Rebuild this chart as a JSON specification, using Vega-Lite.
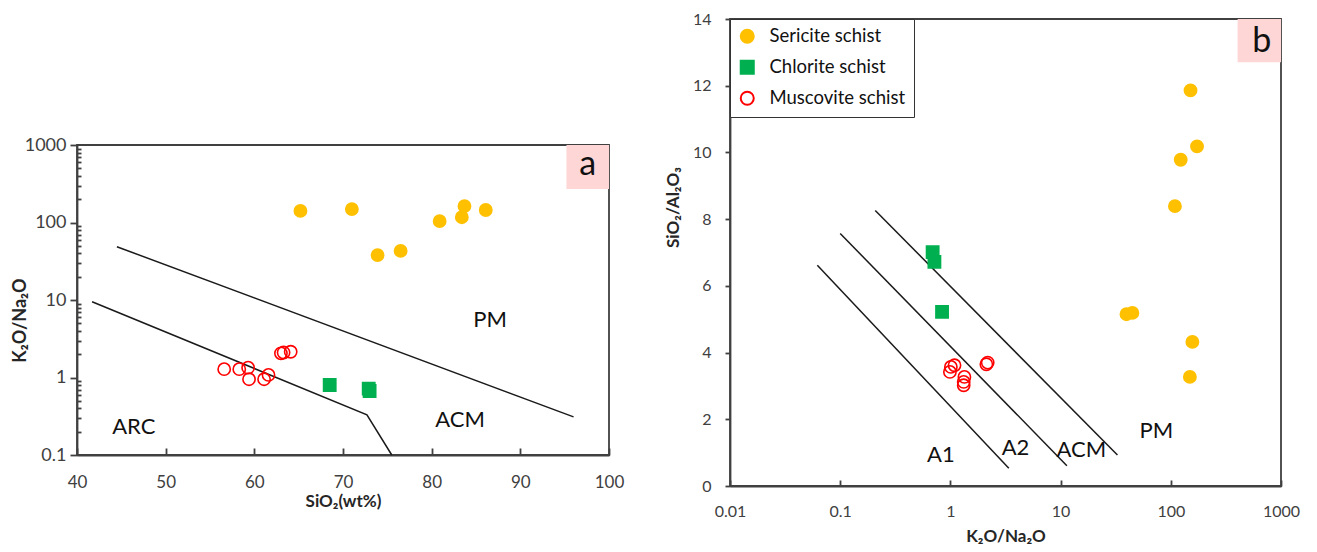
{
  "$schema": "https://vega.github.io/schema/vega-lite/v6.json",
  "padding": {"left": 10, "top": 10, "right": 5, "bottom": 5},
  "background": "white",
  "config": {
    "font": "Lato",
    "axis": {"grid": false, "ticks": true, "labelFlush": false, "domainColor": "#404040", "domainWidth": 1.8, "tickColor": "#404040", "tickWidth": 1.8, "labelColor": "#404040", "titleColor": "#262626", "labelFont": "Lato", "titleFont": "Lato"},
    "view": {"stroke": "#404040", "strokeWidth": 1.8}
  },
  "datasets": {
    "pointsA": [
      {"x": 65.2, "y": 141, "type": "Sericite schist"},
      {"x": 71.0, "y": 149, "type": "Sericite schist"},
      {"x": 73.9, "y": 38, "type": "Sericite schist"},
      {"x": 76.5, "y": 43, "type": "Sericite schist"},
      {"x": 80.9, "y": 104, "type": "Sericite schist"},
      {"x": 83.4, "y": 117, "type": "Sericite schist"},
      {"x": 83.7, "y": 163, "type": "Sericite schist"},
      {"x": 86.1, "y": 145, "type": "Sericite schist"},
      {"x": 68.5, "y": 0.8, "type": "Chlorite schist"},
      {"x": 72.9, "y": 0.72, "type": "Chlorite schist"},
      {"x": 73.0, "y": 0.67, "type": "Chlorite schist"},
      {"x": 56.6, "y": 1.28, "type": "Muscovite schist"},
      {"x": 58.3, "y": 1.28, "type": "Muscovite schist"},
      {"x": 59.3, "y": 1.34, "type": "Muscovite schist"},
      {"x": 59.4, "y": 0.95, "type": "Muscovite schist"},
      {"x": 61.1, "y": 0.95, "type": "Muscovite schist"},
      {"x": 61.6, "y": 1.08, "type": "Muscovite schist"},
      {"x": 63.0, "y": 2.05, "type": "Muscovite schist"},
      {"x": 63.3, "y": 2.1, "type": "Muscovite schist"},
      {"x": 64.1, "y": 2.15, "type": "Muscovite schist"}
    ],
    "linesA": [
      {"id": "u", "x": 44.5, "y": 48.7, "o": 1},
      {"id": "u", "x": 96.0, "y": 0.31, "o": 2},
      {"id": "l", "x": 41.7, "y": 9.5, "o": 1},
      {"id": "l", "x": 72.7, "y": 0.33, "o": 2},
      {"id": "l", "x": 75.5, "y": 0.1, "o": 3}
    ],
    "labelsA": [
      {"x": 86.6, "y": 5.5, "t": "PM"},
      {"x": 46.4, "y": 0.23, "t": "ARC"},
      {"x": 83.2, "y": 0.28, "t": "ACM"}
    ],
    "boxA": [{"x": 95.2, "x2": 100, "y": 270, "y2": 1000, "t": "a", "xt": 97.6, "yt": 560}],
    "pointsB": [
      {"x": 151, "y": 11.86, "type": "Sericite schist"},
      {"x": 173, "y": 10.18, "type": "Sericite schist"},
      {"x": 123, "y": 9.78, "type": "Sericite schist"},
      {"x": 109, "y": 8.39, "type": "Sericite schist"},
      {"x": 39.6, "y": 5.15, "type": "Sericite schist"},
      {"x": 44.8, "y": 5.19, "type": "Sericite schist"},
      {"x": 157, "y": 4.32, "type": "Sericite schist"},
      {"x": 149, "y": 3.27, "type": "Sericite schist"},
      {"x": 0.69, "y": 7.01, "type": "Chlorite schist"},
      {"x": 0.716, "y": 6.72, "type": "Chlorite schist"},
      {"x": 0.84, "y": 5.22, "type": "Chlorite schist"},
      {"x": 1.01, "y": 3.57, "type": "Muscovite schist"},
      {"x": 1.09, "y": 3.62, "type": "Muscovite schist"},
      {"x": 0.99, "y": 3.42, "type": "Muscovite schist"},
      {"x": 1.34, "y": 3.27, "type": "Muscovite schist"},
      {"x": 1.32, "y": 3.12, "type": "Muscovite schist"},
      {"x": 1.32, "y": 3.02, "type": "Muscovite schist"},
      {"x": 2.12, "y": 3.65, "type": "Muscovite schist"},
      {"x": 2.18, "y": 3.7, "type": "Muscovite schist"}
    ],
    "linesB": [
      {"id": "a1", "x": 0.062, "y": 6.62, "o": 1},
      {"id": "a1", "x": 3.39, "y": 0.53, "o": 2},
      {"id": "a2", "x": 0.1, "y": 7.57, "o": 1},
      {"id": "a2", "x": 11.4, "y": 0.61, "o": 2},
      {"id": "acm", "x": 0.208, "y": 8.26, "o": 1},
      {"id": "acm", "x": 32.8, "y": 0.93, "o": 2}
    ],
    "labelsB": [
      {"x": 0.82, "y": 0.93, "t": "A1"},
      {"x": 3.9, "y": 1.13, "t": "A2"},
      {"x": 15.4, "y": 1.08, "t": "ACM"},
      {"x": 74, "y": 1.66, "t": "PM"}
    ],
    "boxB": [{"x": 404, "x2": 1000, "y": 12.7, "y2": 14, "t": "b", "xt": 668, "yt": 13.3}]
  },
  "hconcat": [
    {
      "vconcat": [
        {"width": 10, "height": 116, "view": {"stroke": null, "fill": "white"}, "data": {"values": [{"a": 1}]}, "mark": {"type": "point", "opacity": 0}, "encoding": {}},
        {
          "width": 532,
          "height": 310,
          "encoding": {
            "x": {"field": "x", "type": "quantitative", "scale": {"domain": [40, 100], "nice": false, "zero": false},
              "axis": {"title": "SiO₂(wt%)", "values": [40, 50, 60, 70, 80, 90, 100], "tickSize": -7, "labelPadding": 26, "labelFontSize": 17, "titleFontSize": 17, "titleFontWeight": "bold", "titlePadding": 3}},
            "y": {"field": "y", "type": "quantitative", "scale": {"type": "log", "domain": [0.1, 1000], "nice": false},
              "axis": {"title": "K₂O/Na₂O", "values": [0.1, 0.2, 0.3, 0.4, 0.5, 0.6, 0.7, 0.8, 0.9, 1, 2, 3, 4, 5, 6, 7, 8, 9, 10, 20, 30, 40, 50, 60, 70, 80, 90, 100, 200, 300, 400, 500, 600, 700, 800, 900, 1000],
                "format": "~g",
                "labelExpr": "indexof([0.1,1,10,100,1000], datum.value) >= 0 ? datum.label : ''",
                "tickSize": {"condition": {"test": "indexof([0.1,1,10,100,1000], datum.value) >= 0", "value": 7}, "value": -4},
                "labelFontSize": 18, "labelPadding": 4, "titleFontSize": 18, "titleFontWeight": "bold", "titlePadding": -5, "titleY": 175}}
          },
          "layer": [
            {"data": {"name": "boxA"}, "mark": {"type": "rect", "color": "#FFD6D6"}, "encoding": {"x2": {"field": "x2"}, "y2": {"field": "y2"}}},
            {"data": {"name": "boxA"}, "mark": {"type": "text", "fontSize": 34, "color": "#111"}, "encoding": {"x": {"field": "xt", "type": "quantitative"}, "y": {"field": "yt", "type": "quantitative"}, "text": {"field": "t"}}},
            {"data": {"name": "linesA"}, "mark": {"type": "line", "color": "#1a1a1a", "strokeWidth": 1.5}, "encoding": {"detail": {"field": "id"}, "order": {"field": "o", "type": "quantitative"}}},
            {"data": {"name": "pointsA"}, "mark": {"type": "point", "filled": true, "size": 150, "strokeWidth": 1.6, "opacity": 1},
              "encoding": {
                "shape": {"field": "type", "type": "nominal", "scale": {"domain": ["Sericite schist", "Chlorite schist", "Muscovite schist"], "range": ["circle", "square", "circle"]}, "legend": null},
                "fill": {"field": "type", "type": "nominal", "scale": {"domain": ["Sericite schist", "Chlorite schist", "Muscovite schist"], "range": ["#FFC000", "#00B050", "transparent"]}, "legend": null},
                "stroke": {"field": "type", "type": "nominal", "scale": {"domain": ["Sericite schist", "Chlorite schist", "Muscovite schist"], "range": ["#FFC000", "#00B050", "#FF0000"]}, "legend": null}
              }},
            {"data": {"name": "labelsA"}, "mark": {"type": "text", "fontSize": 22, "color": "#111"}, "encoding": {"text": {"field": "t"}}}
          ]
        }
      ],
      "spacing": 0
    },
    {
      "width": 551,
      "height": 467,
      "encoding": {
        "x": {"field": "x", "type": "quantitative", "scale": {"type": "log", "domain": [0.01, 1000], "nice": false},
          "axis": {"title": "K₂O/Na₂O", "values": [0.01, 0.1, 1, 10, 100, 1000], "format": "~g", "tickSize": -6, "labelPadding": 23, "labelFontSize": 16, "titleFontSize": 17, "titleFontWeight": "bold", "titlePadding": 9}},
        "y": {"field": "y", "type": "quantitative", "scale": {"domain": [0, 14], "nice": false},
          "axis": {"title": "SiO₂/Al₂O₃", "values": [0, 2, 4, 6, 8, 10, 12, 14], "tickSize": 5, "labelPadding": 14, "labelFontSize": 16, "titleFontSize": 17, "titleFontWeight": "bold", "titlePadding": 10, "titleY": 188}}
      },
      "layer": [
        {"data": {"name": "boxB"}, "mark": {"type": "rect", "color": "#FFD6D6"}, "encoding": {"x2": {"field": "x2"}, "y2": {"field": "y2"}}},
        {"data": {"name": "boxB"}, "mark": {"type": "text", "fontSize": 34, "color": "#111"}, "encoding": {"x": {"field": "xt", "type": "quantitative"}, "y": {"field": "yt", "type": "quantitative"}, "text": {"field": "t"}}},
        {"data": {"name": "linesB"}, "mark": {"type": "line", "color": "#1a1a1a", "strokeWidth": 1.5}, "encoding": {"detail": {"field": "id"}, "order": {"field": "o", "type": "quantitative"}}},
        {"data": {"name": "pointsB"}, "mark": {"type": "point", "filled": true, "size": 150, "strokeWidth": 1.6, "opacity": 1},
          "encoding": {
            "shape": {"field": "type", "type": "nominal", "scale": {"domain": ["Sericite schist", "Chlorite schist", "Muscovite schist"], "range": ["circle", "square", "circle"]},
              "legend": {"title": null, "orient": "top-left", "offset": 0, "padding": 8, "strokeColor": "#333", "fillColor": "white", "labelFontSize": 18.5, "labelFont": "Lato", "labelColor": "#111", "symbolSize": 170, "symbolStrokeWidth": 2, "rowPadding": 9, "labelOffset": 13}},
            "fill": {"field": "type", "type": "nominal", "scale": {"domain": ["Sericite schist", "Chlorite schist", "Muscovite schist"], "range": ["#FFC000", "#00B050", "transparent"]},
              "legend": {"title": null, "orient": "top-left", "offset": 0, "padding": 8, "strokeColor": "#333", "fillColor": "white", "labelFontSize": 18.5, "labelFont": "Lato", "labelColor": "#111", "symbolSize": 170, "symbolStrokeWidth": 2, "rowPadding": 9, "labelOffset": 13}},
            "stroke": {"field": "type", "type": "nominal", "scale": {"domain": ["Sericite schist", "Chlorite schist", "Muscovite schist"], "range": ["#FFC000", "#00B050", "#FF0000"]},
              "legend": {"title": null, "orient": "top-left", "offset": 0, "padding": 8, "strokeColor": "#333", "fillColor": "white", "labelFontSize": 18.5, "labelFont": "Lato", "labelColor": "#111", "symbolSize": 170, "symbolStrokeWidth": 2, "rowPadding": 9, "labelOffset": 13}}
          }},
        {"data": {"name": "labelsB"}, "mark": {"type": "text", "fontSize": 22, "color": "#111"}, "encoding": {"text": {"field": "t"}}}
      ]
    }
  ],
  "spacing": 38,
  "resolve": {"scale": {"shape": "independent", "fill": "independent", "stroke": "independent"}, "legend": {"shape": "independent", "fill": "independent", "stroke": "independent"}}
}
